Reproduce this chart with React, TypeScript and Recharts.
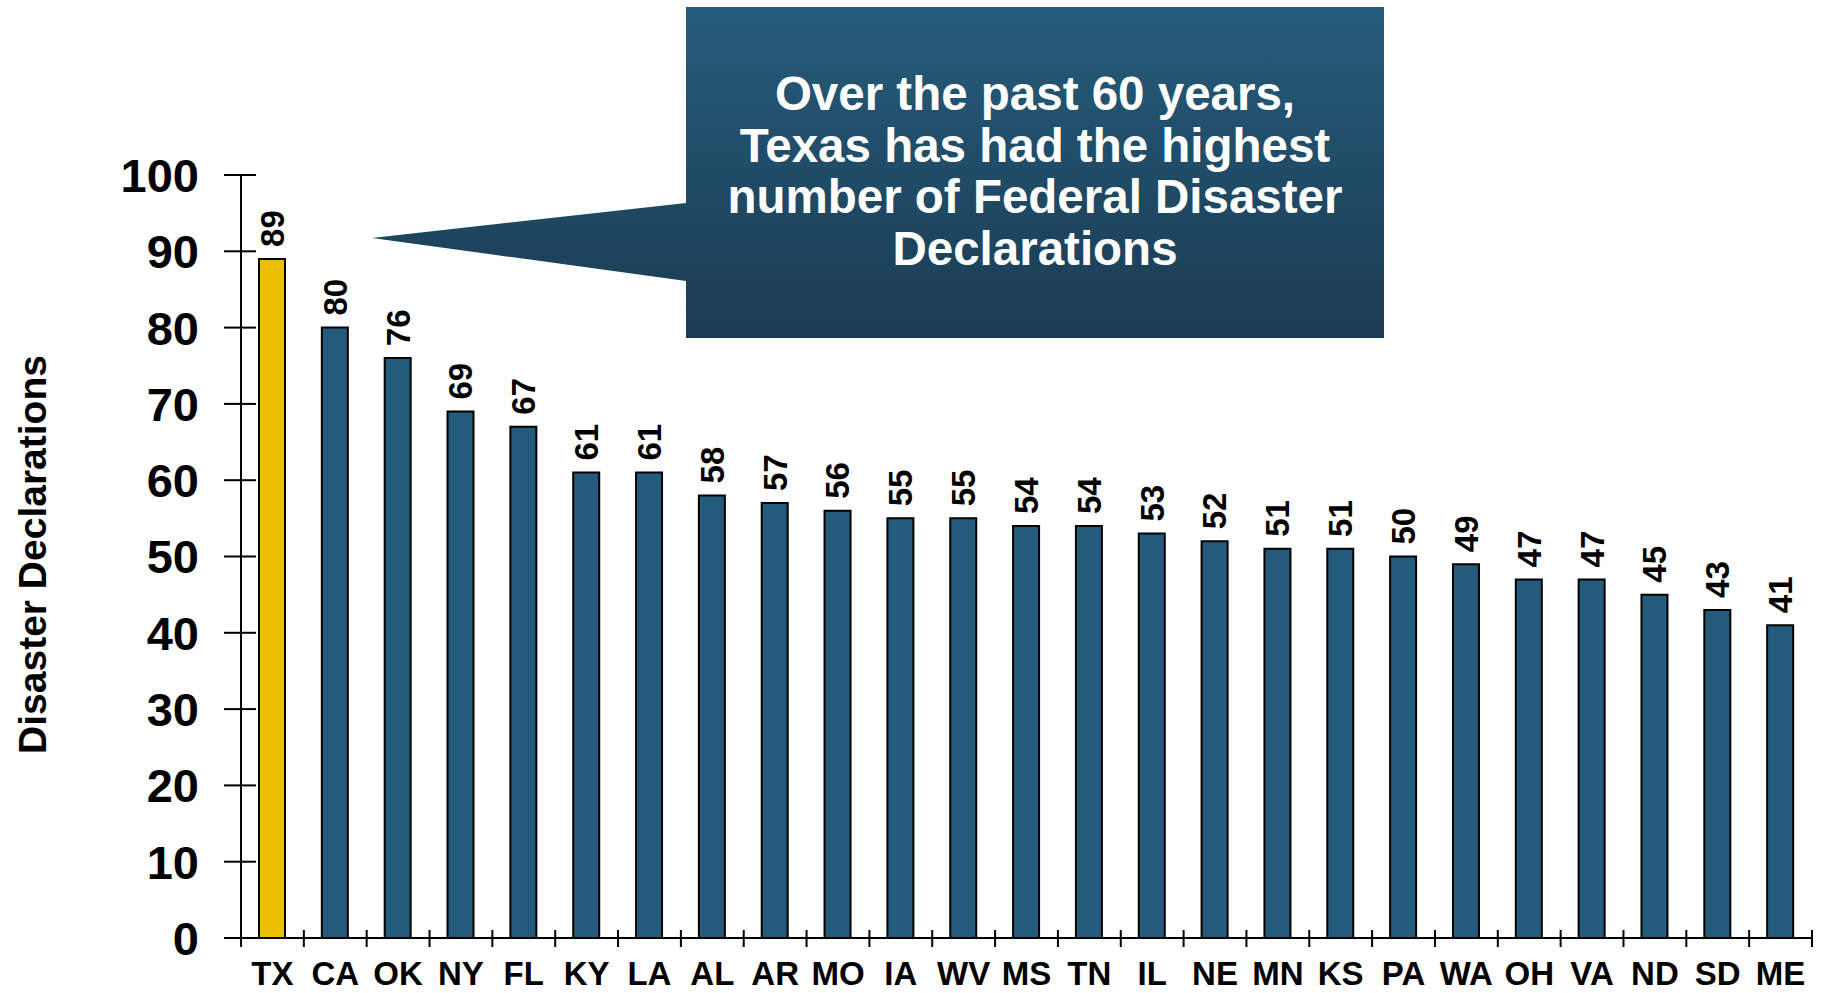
import { BarChart, Bar, XAxis, YAxis, Cell, LabelList } from 'recharts';

const states = ['TX', 'CA', 'OK', 'NY', 'FL', 'KY', 'LA', 'AL', 'AR', 'MO', 'IA', 'WV', 'MS', 'TN', 'IL', 'NE', 'MN', 'KS', 'PA', 'WA', 'OH', 'VA', 'ND', 'SD', 'ME'];
const declarations = [89, 80, 76, 69, 67, 61, 61, 58, 57, 56, 55, 55, 54, 54, 53, 52, 51, 51, 50, 49, 47, 47, 45, 43, 41];
const yTicks = [0, 10, 20, 30, 40, 50, 60, 70, 80, 90, 100];
const calloutLines = ['Over the past 60 years,', 'Texas has had the highest', 'number of Federal Disaster', 'Declarations'];

const data = states.map((state, i) => ({ state, value: declarations[i] }));

const W = 1821;
const H = 993;
const PLOT_LEFT = 241;
const PLOT_RIGHT = 1812;
const PLOT_TOP = 175;
const PLOT_BOTTOM = 938;
const BAND = (PLOT_RIGHT - PLOT_LEFT) / states.length;
const FONT = '"Liberation Sans", Arial, sans-serif';
const BLUE = '#245B7A';
const GOLD = '#EBC000';

function YTick(props: any) {
  const { y, payload } = props;
  return (
    <g>
      <line x1={PLOT_LEFT - 17} x2={PLOT_LEFT + 15} y1={y} y2={y} stroke="#000" strokeWidth={2} />
      <text x={199} y={y} dy="0.36em" textAnchor="end" fontFamily={FONT} fontWeight="bold" fontSize={47} fill="#000">
        {payload.value}
      </text>
    </g>
  );
}

function XTick(props: any) {
  const { x, payload, index } = props;
  const left = x - BAND / 2;
  const isLast = index === states.length - 1;
  return (
    <g>
      <line x1={left} x2={left} y1={PLOT_BOTTOM - 8} y2={PLOT_BOTTOM + 9} stroke="#000" strokeWidth={2} />
      {isLast && (
        <line x1={x + BAND / 2} x2={x + BAND / 2} y1={PLOT_BOTTOM - 8} y2={PLOT_BOTTOM + 9} stroke="#000" strokeWidth={2} />
      )}
      <text x={x} y={PLOT_BOTTOM + 47} textAnchor="middle" fontFamily={FONT} fontWeight="bold" fontSize={33} fill="#000">
        {payload.value}
      </text>
    </g>
  );
}

function ValueLabel(props: any) {
  const { x, y, width, value } = props;
  const cx = x + width / 2;
  const ty = y - 12;
  return (
    <text
      x={cx}
      y={ty}
      dy="0.36em"
      transform={`rotate(-90, ${cx}, ${ty})`}
      textAnchor="start"
      fontFamily={FONT}
      fontWeight="bold"
      fontSize={33}
      fill="#000"
    >
      {value}
    </text>
  );
}

function AxisTitle(props: any) {
  const { viewBox } = props;
  const cy = viewBox.y + viewBox.height / 2 - 2;
  const cx = 32;
  return (
    <text
      x={cx}
      y={cy}
      dy="0.36em"
      transform={`rotate(-90, ${cx}, ${cy})`}
      textAnchor="middle"
      fontFamily={FONT}
      fontWeight="bold"
      fontSize={39}
      fill="#000"
    >
      Disaster Declarations
    </text>
  );
}

function Callout() {
  return (
    <svg width={W} height={H} style={{ position: 'absolute', left: 0, top: 0, pointerEvents: 'none' }}>
      <defs>
        <linearGradient id="calloutFill" x1="0" y1="0" x2="0" y2="1">
          <stop offset="0%" stopColor="#255C7B" />
          <stop offset="100%" stopColor="#1B3B52" />
        </linearGradient>
      </defs>
      <path
        d="M372,238 L686,203 L686,7 L1384,7 L1384,338 L686,338 L686,281 Z"
        fill="url(#calloutFill)"
      />
      {calloutLines.map((line, i) => (
        <text
          key={line}
          x={1035}
          y={110 + i * 51.7}
          textAnchor="middle"
          fontFamily={FONT}
          fontWeight="bold"
          fontSize={47.5}
          fill="#fff"
        >
          {line}
        </text>
      ))}
    </svg>
  );
}

export default function App() {
  return (
    <div style={{ position: 'absolute', left: 0, top: 0, width: W, height: H, background: '#fff' }}>
      <BarChart
        width={W}
        height={H}
        data={data}
        margin={{ top: PLOT_TOP, right: W - PLOT_RIGHT, left: 0, bottom: 0 }}
        barCategoryGap={0}
      >
        <XAxis
          dataKey="state"
          interval={0}
          height={H - PLOT_BOTTOM}
          tickLine={false}
          axisLine={{ stroke: '#000', strokeWidth: 2 }}
          tick={<XTick />}
        />
        <YAxis
          width={PLOT_LEFT}
          domain={[0, 100]}
          ticks={yTicks}
          interval={0}
          tickLine={false}
          axisLine={{ stroke: '#000', strokeWidth: 2 }}
          tick={<YTick />}
          label={<AxisTitle />}
        />
        <Bar dataKey="value" barSize={26} stroke="#000" strokeWidth={2} isAnimationActive={false}>
          {data.map((d, i) => (
            <Cell key={d.state} fill={i === 0 ? GOLD : BLUE} />
          ))}
          <LabelList dataKey="value" content={<ValueLabel />} />
        </Bar>
      </BarChart>
      <Callout />
    </div>
  );
}
